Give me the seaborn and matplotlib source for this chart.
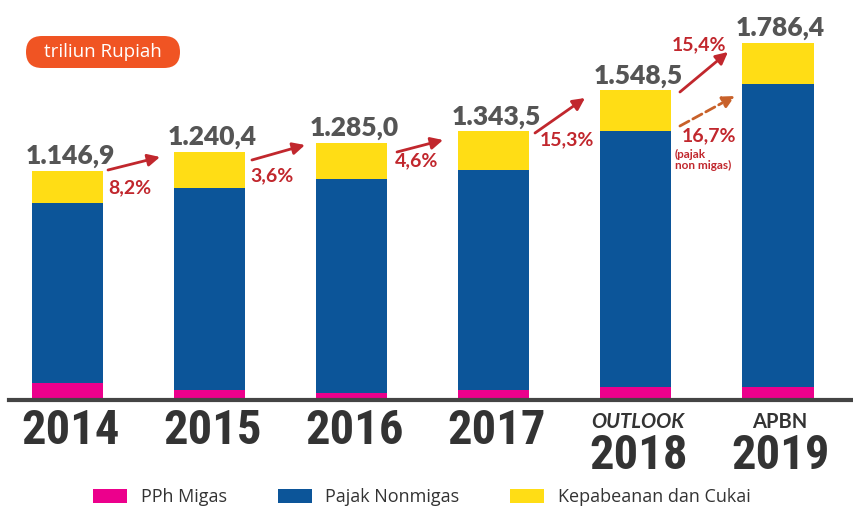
import numpy as np
import pandas as pd
import matplotlib
matplotlib.use('Agg')
import matplotlib.pyplot as plt
from matplotlib import font_manager as fm
from matplotlib.patches import FancyBboxPatch
from matplotlib.transforms import IdentityTransform
import seaborn as sns

# Data (triliun Rupiah)
years = ['2014', '2015', '2016', '2017', '2018', '2019']
year_prefix = ['', '', '', '', 'OUTLOOK', 'APBN']
pph_migas = [87.4, 49.7, 36.1, 50.3, 64.7, 66.2]
pajak_nonmigas = [897.7, 1011.1, 1070.2, 1100.9, 1278.4, 1511.4]
kepabeanan_cukai = [161.8, 179.6, 178.7, 192.3, 205.4, 208.8]
total_labels = ['1.146,9', '1.240,4', '1.285,0', '1.343,5', '1.548,5', '1.786,4']

# growth arrows: (start x, start y, end x, end y, label, label x, label y)
growth = [
    (0.285, 1150, 0.651, 1215, '8,2%', 0.285, 1105),
    (1.298, 1200, 1.671, 1275, '3,6%', 1.284, 1165),
    (2.319, 1240, 2.643, 1300, '4,6%', 2.305, 1240),
    (3.290, 1335, 3.642, 1510, '15,3%', 3.325, 1345),
    (4.310, 1540, 4.648, 1740, '15,4%', 4.254, 1820),
]

df = pd.DataFrame({'tahun': years, 'pph': pph_migas,
                   'nonmigas': pajak_nonmigas, 'kc': kepabeanan_cukai})
df['lvl1'] = df['pph']
df['lvl2'] = df['pph'] + df['nonmigas']
df['lvl3'] = df['lvl2'] + df['kc']

PINK = '#ec008c'
BLUE = '#0c5599'
YELLOW = '#ffdd15'
RED = '#c1272d'
ORANGE = '#c8612a'

# pick a narrow font for the year labels
installed = set(f.name for f in fm.fontManager.ttflist)
narrow = 'DejaVu Sans'
for name in ['Roboto Condensed', 'Archivo Narrow', 'PT Sans Narrow',
             'Liberation Sans Narrow', 'Oswald']:
    if name in installed:
        narrow = name
        break
GEO = ['Lato', 'DejaVu Sans']

sns.set_style('white')
plt.rcParams['font.family'] = ['DejaVu Sans']

fig = plt.figure(figsize=(8.54, 5.07), dpi=100)
ax = fig.add_axes([0.01, 107 / 507, 0.99, 400 / 507])

for col, c in [('lvl3', YELLOW), ('lvl2', BLUE), ('lvl1', PINK)]:
    sns.barplot(data=df, x='tahun', y=col, color=c, width=0.5,
                saturation=1, errorbar=None, linewidth=0, ax=ax)

ax.set_xlim(-0.415, 5.535)
ax.set_ylim(0, 2000)
ax.set_xlabel('')
ax.set_ylabel('')
ax.set_xticks([])
ax.set_yticks([])
for s in ['top', 'right', 'left']:
    ax.spines[s].set_visible(False)
ax.spines['bottom'].set_color('#444444')
ax.spines['bottom'].set_linewidth(3)

# totals above bars
for i, (tot, lab) in enumerate(zip(df['lvl3'], total_labels)):
    ax.annotate(lab, xy=(i, tot), xytext=(2, 5), textcoords='offset points',
                ha='center', va='baseline', fontsize=19, fontweight='heavy',
                family=GEO, color='#555555')

# year labels under the axis
for i, (yr, pre) in enumerate(zip(years, year_prefix)):
    off = -49.5 if pre else -32
    ax.annotate(yr, xy=(i, 0), xytext=(2, off), textcoords='offset points',
                ha='center', va='baseline', fontsize=35, fontweight='bold',
                family=narrow, color='#333333', annotation_clip=False)
    if pre:
        ax.annotate(pre, xy=(i, 0), xytext=(1, -20), textcoords='offset points',
                    ha='center', va='baseline', fontsize=14.5, fontweight='bold',
                    fontstyle='italic' if pre == 'OUTLOOK' else 'normal',
                    family=GEO, color='#333333', annotation_clip=False)

# growth arrows
for x0, y0, x1, y1, lab, lx, ly in growth:
    ax.annotate('', xy=(x1, y1), xytext=(x0, y0),
                arrowprops=dict(arrowstyle='-|>', color=RED, lw=2,
                                mutation_scale=18, shrinkA=0, shrinkB=0))
    ax.text(lx, ly, lab, ha='left', va='top', fontsize=14, fontweight='bold',
            family=GEO, color=RED)

# dashed arrow for pajak non migas
ax.annotate('', xy=(4.697, 1520), xytext=(4.310, 1370),
            arrowprops=dict(arrowstyle='-|>', color=ORANGE, lw=2, ls='--',
                            mutation_scale=18, shrinkA=0, shrinkB=0))
ax.text(4.324, 1365, '16,7%', ha='left', va='top', fontsize=14,
        fontweight='bold', family=GEO, color=RED)
ax.text(4.275, 1255, '(pajak\nnon migas)', ha='left', va='top', fontsize=8.5,
        fontweight='bold', family=GEO, color=RED, linespacing=0.95)

# unit badge
badge = FancyBboxPatch((26, 507 - 68), 154, 32,
                       boxstyle='round,pad=0,rounding_size=16',
                       fc='#f05423', ec='none', transform=IdentityTransform())
fig.add_artist(badge)
fig.text(103 / 854, 1 - 52 / 507, 'triliun Rupiah', ha='center', va='center',
         fontsize=13.5, color='white', family='Open Sans')

# legend
handles = [ax.containers[2], ax.containers[1], ax.containers[0]]
leg = fig.legend(handles, ['PPh Migas', 'Pajak Nonmigas', 'Kepabeanan dan Cukai'],
                 loc='lower center', bbox_to_anchor=(0.494, -0.03), ncol=3,
                 frameon=False, handlelength=1.9, handleheight=0.85,
                 handletextpad=0.75, columnspacing=2.8,
                 prop={'family': 'Open Sans', 'size': 13})
for t in leg.get_texts():
    t.set_color('#333333')

fig.savefig('out.png', dpi=100)
